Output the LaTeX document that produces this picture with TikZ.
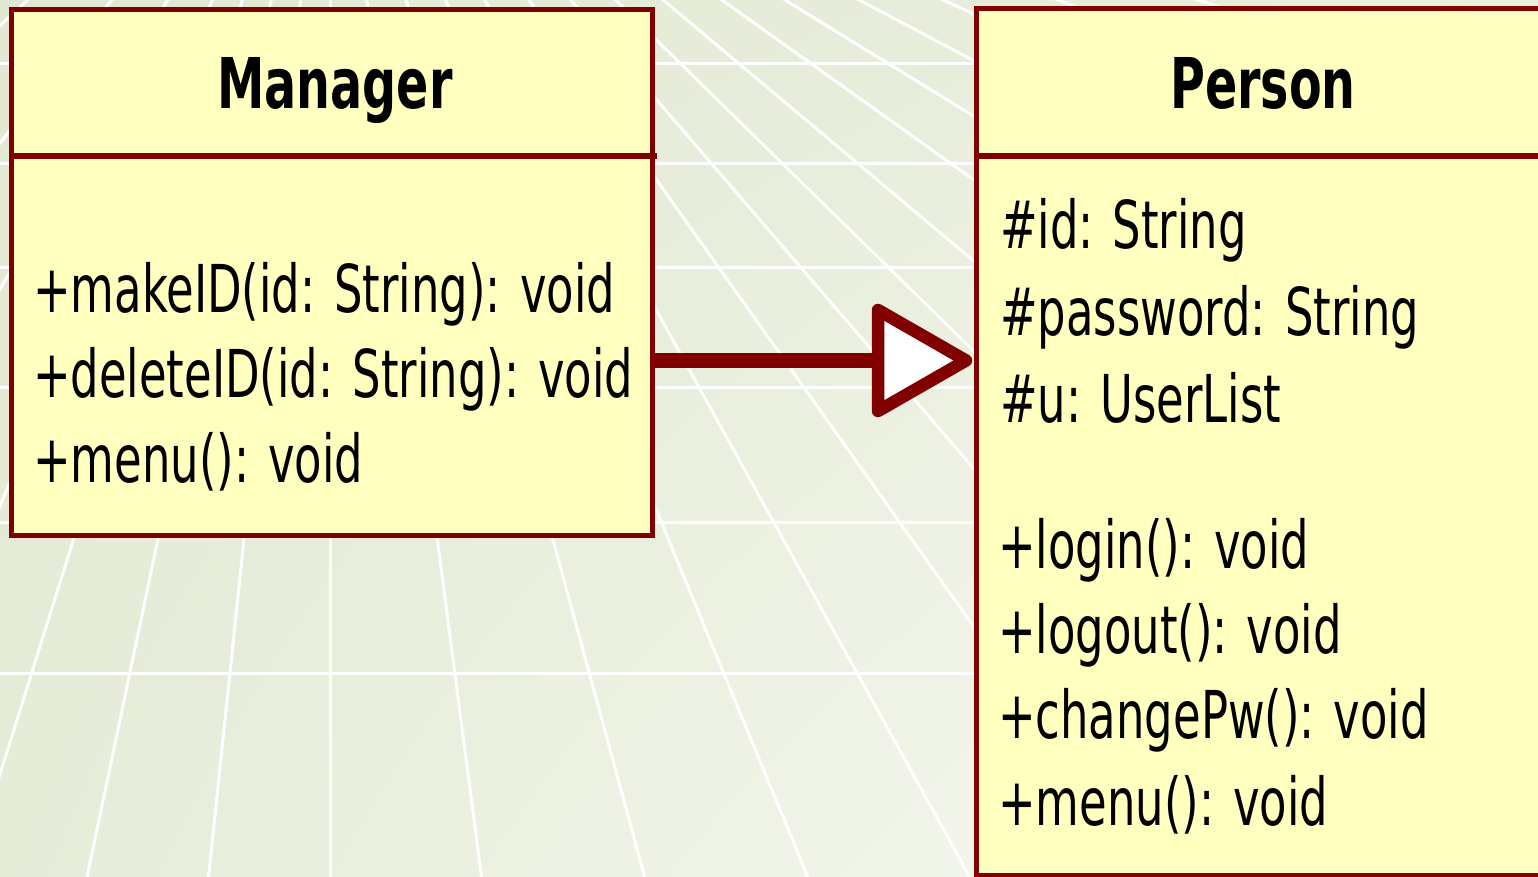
\documentclass[tikz,border=0pt]{standalone}
\usepackage{fontspec}
\newfontfamily\umlfont{DejaVu Sans}[FakeStretch=0.68]
\usetikzlibrary{calc,shadings}
\definecolor{umlred}{HTML}{800000}
\definecolor{umlfill}{HTML}{FFFFC0}
\definecolor{bgul}{HTML}{E1E9D2}
\definecolor{bgur}{HTML}{EAEFDF}
\definecolor{bgll}{HTML}{E5ECD8}
\definecolor{bglr}{HTML}{FAFBF6}
\begin{document}
\begin{tikzpicture}[x=1pt,y=-1pt,
  classbox/.style={draw=umlred, fill=umlfill, line width=5pt, rectangle, inner sep=0pt, outer sep=0pt},
  divider/.style={draw=umlred, line width=5.5pt},
  member/.style={anchor=base west, inner sep=0pt, text=black, font=\umlfont\fontsize{66}{79}\selectfont},
  classtitle/.style={anchor=base, inner sep=0pt, text=black, font=\umlfont\bfseries\fontsize{70}{84}\selectfont},
  gridline/.style={draw=white, line width=3pt},
  conn/.style={draw=umlred, line width=14.5pt},
  headtri/.style={draw=umlred, fill=white, line width=12.5pt, line join=round},
  ]
\useasboundingbox (0,0) rectangle (1538,876);
\shade[upper left=bgul, upper right=bgur, lower left=bgll, lower right=bglr] (0,0) rectangle (1538,876);
\begin{scope}
  \clip (0,0) rectangle (1538,876);
  \foreach \yy in {63,163,267,387,522,673}
    \draw[gridline] (0,\yy) -- (1538,\yy);
  \foreach \s in {-1.08,-0.78,-0.58,-0.42,-0.313,-0.21,-0.105,0,0.131,0.272,0.413,0.553,0.71,0.86,1.02,1.19,1.40,1.625,1.89,2.19,2.6,3.1}
    \draw[gridline] (330,-280) -- ++({1180*(\s)},1180);
\end{scope}

% Manager class
\node[classbox, minimum width=641pt, minimum height=526.5pt] (mgr) at (332,272.25) {};
\draw[divider] ([yshift=-147pt]mgr.north west) -- ([yshift=-147pt,xshift=4pt]mgr.north east);
\node[classtitle] (mgrtitle) at (335,108) {Manager};
\node[member] (m1) at (33,312) {+makeID(id: String): void};
\node[member] (m2) at (33,397) {+deleteID(id: String): void};
\node[member] (m3) at (33,482) {+menu(): void};

% Person class
\node[classbox, minimum width=576pt, minimum height=867pt] (per) at (1264,441.5) {};
\draw[divider] ([yshift=-148pt]per.north west) -- ([yshift=-148pt]per.north east);
\node[classtitle] (pertitle) at (1263,108) {Person};
\node[member] (p1) at (1000,248) {\#id: String};
\node[member] (p2) at (1000,335) {\#password: String};
\node[member] (p3) at (1000,422) {\#u: UserList};
\node[member] (p4) at (998,568) {+login(): void};
\node[member] (p5) at (998,653) {+logout(): void};
\node[member] (p6) at (998,738) {+changePw(): void};
\node[member] (p7) at (998,825) {+menu(): void};

% Generalization arrow
\coordinate (ay) at (0,360.5);
\coordinate (tb) at (878,360.5);
\coordinate (tt) at (878,310);
\coordinate (tbot) at (878,411);
\coordinate (tip) at ($(per.west |- ay)+(-10,0)$);
\draw[conn] (mgr.east |- ay) -- (tb);
\draw[headtri] (tt) -- (tip) -- (tbot) -- cycle;
\end{tikzpicture}
\end{document}
